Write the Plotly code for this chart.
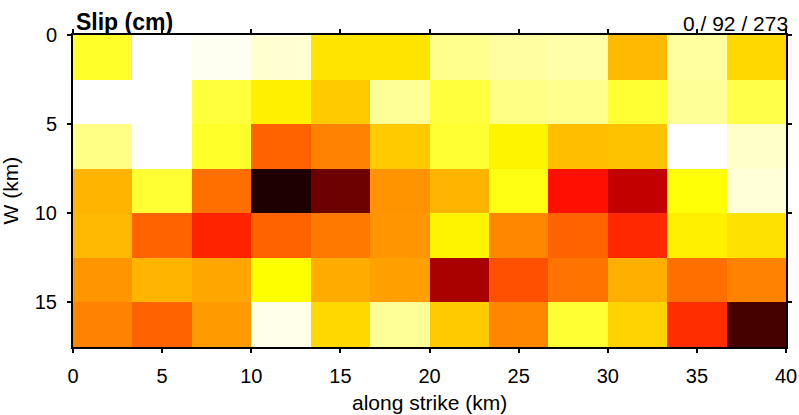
import numpy as np
import plotly.graph_objects as go

# Fault dimensions (km)
fault_length = 40.0
fault_width = 17.5

# Slip (cm), rows = down-dip patches (top to bottom), columns = along-strike patches
slip_rows = [
    [60, 0, 4, 13, 83, 83, 32, 26, 24, 101, 27, 88],
    [0, 0, 54, 78, 94, 29, 54, 34, 32, 57, 29, 51],
    [34, 0, 60, 137, 124, 94, 57, 76, 99, 97, 0, 15],
    [103, 57, 132, 273, 240, 117, 103, 66, 172, 204, 70, 11],
    [101, 137, 164, 137, 128, 116, 76, 122, 137, 162, 78, 84],
    [116, 103, 109, 72, 107, 112, 215, 145, 130, 105, 132, 124],
    [124, 137, 114, 6, 88, 29, 94, 122, 57, 90, 160, 257],
]

x_ticks = [0, 5, 10, 15, 20, 25, 30, 35, 40]
y_ticks = [0, 5, 10, 15]
stats_label = "0 / 92 / 273"

n_rows = len(slip_rows)
n_cols = len(slip_rows[0])
x_edges = np.linspace(0, fault_length, n_cols + 1)
y_edges = np.linspace(0, fault_width, n_rows + 1)

hot_r = [
    [0.0, "rgb(255,255,255)"],
    [0.25, "rgb(255,255,0)"],
    [0.625, "rgb(255,0,0)"],
    [1.0, "rgb(0,0,0)"],
]

fig = go.Figure(
    go.Heatmap(
        z=slip_rows,
        x=x_edges,
        y=y_edges,
        colorscale=hot_r,
        zmin=0,
        zmax=286,
        showscale=False,
    )
)

font_family = "Liberation Sans, Arial, Helvetica, sans-serif"
axis_common = dict(
    showline=True,
    linecolor="black",
    linewidth=2,
    mirror="ticks",
    ticks="outside",
    ticklen=4,
    tickwidth=1.5,
    tickcolor="black",
    showgrid=False,
    zeroline=False,
    automargin=False,
    tickfont=dict(size=20, color="black", family=font_family),
)

fig.update_layout(
    width=799,
    height=415,
    margin=dict(l=73, r=13, t=35, b=68),
    paper_bgcolor="white",
    plot_bgcolor="white",
    font=dict(family=font_family, color="black"),
    xaxis=dict(
        range=[0, fault_length],
        tickvals=x_ticks,
        ticklabelstandoff=6,
        **axis_common,
    ),
    yaxis=dict(
        range=[fault_width, 0],
        tickvals=y_ticks,
        ticklabelstandoff=6,
        **axis_common,
    ),
    annotations=[
        dict(
            text="<b>Slip (cm)</b>",
            x=0, y=1, xref="paper", yref="paper",
            xanchor="left", yanchor="bottom", yshift=-2, xshift=1,
            showarrow=False, font=dict(size=23, color="black"),
        ),
        dict(
            text=stats_label,
            x=1, y=1, xref="paper", yref="paper",
            xanchor="right", yanchor="bottom", yshift=-2, xshift=4,
            showarrow=False, font=dict(size=21, color="black"),
        ),
        dict(
            text="along strike (km)",
            x=0.5, y=0, xref="paper", yref="paper",
            xanchor="center", yanchor="top", yshift=-42,
            showarrow=False, font=dict(size=21, color="black"),
        ),
        dict(
            text="W (km)",
            x=0, y=0.5, xref="paper", yref="paper",
            xanchor="right", yanchor="middle", xshift=-50,
            textangle=-90,
            showarrow=False, font=dict(size=21, color="black"),
        ),
    ],
)

fig.write_html(
    "out.html",
    config={"displayModeBar": False},
    post_script="document.body.style.margin='0';document.body.style.overflow='hidden';",
)
